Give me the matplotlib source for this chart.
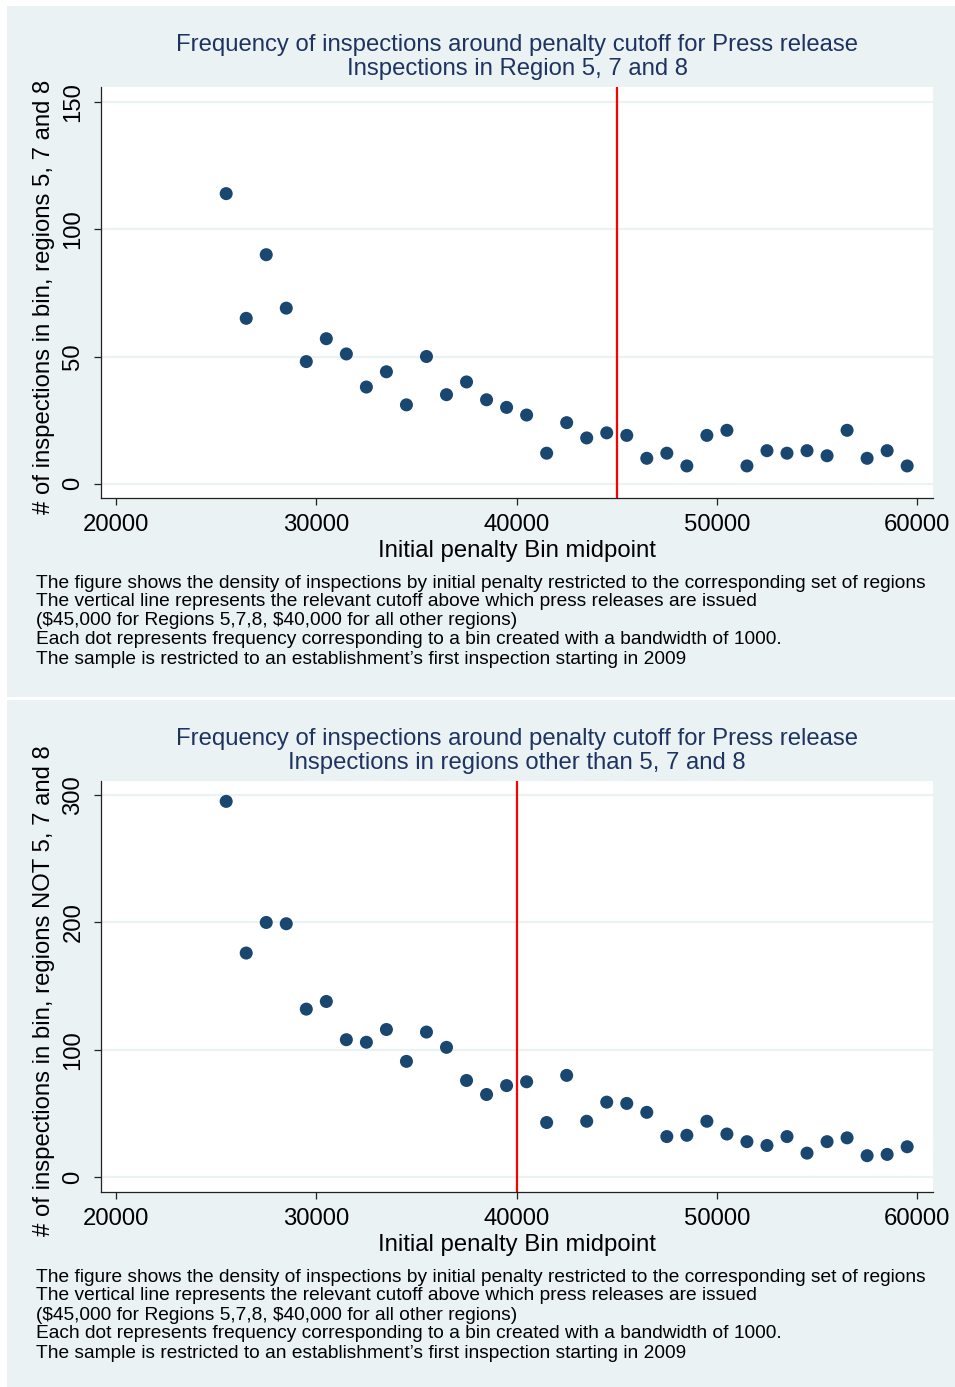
import numpy as np
import matplotlib
matplotlib.use("Agg")
import matplotlib.pyplot as plt
from matplotlib.patches import Rectangle

plt.rcParams["font.family"] = ["Liberation Sans", "DejaVu Sans"]

# Bin midpoints (bandwidth 1000)
bin_mid = np.arange(25500, 60000, 1000)

# Frequencies for regions 5, 7 and 8
freq_r578 = [114, 65, 90, 69, 48, 57, 51, 38, 44, 31, 50, 35, 40, 33, 30, 27, 12, 24,
             18, 20, 19, 10, 12, 7, 19, 21, 7, 13, 12, 13, 11, 21, 10, 13, 7]
# Frequencies for all other regions
freq_other = [295, 176, 200, 199, 132, 138, 108, 106, 116, 91, 114, 102, 76, 65, 72, 75,
              43, 80, 44, 59, 58, 51, 32, 33, 44, 34, 28, 25, 32, 19, 28, 31, 17, 18, 24]

cutoff_r578 = 45000
cutoff_other = 40000

xticks = [20000, 30000, 40000, 50000, 60000]
yticks_r578 = [0, 50, 100, 150]
yticks_other = [0, 100, 200, 300]

titles_r578 = ["Frequency of inspections around penalty cutoff for Press release",
               "Inspections in Region 5, 7 and 8"]
titles_other = ["Frequency of inspections around penalty cutoff for Press release",
                "Inspections in regions other than 5, 7 and 8"]
ylabel_r578 = "# of inspections in bin, regions 5, 7 and 8"
ylabel_other = "# of inspections in bin, regions NOT 5, 7 and 8"
xlabel = "Initial penalty Bin midpoint"
notes = ["The figure shows the density of inspections by initial penalty restricted to the corresponding set of regions",
         "The vertical line represents the relevant cutoff above which press releases are issued",
         "($45,000 for Regions 5,7,8, $40,000 for all other regions)",
         "Each dot represents frequency corresponding to a bin created with a bandwidth of 1000.",
         "The sample is restricted to an establishment\u2019s first inspection starting in 2009"]

W, H = 955, 1387
BG = "#eaf2f3"
NAVY = "#1a476f"
TITLE_C = "#1f3360"
FS = 17.2

fig = plt.figure(figsize=(W / 100, H / 100), dpi=100)
fig.patch.set_facecolor("white")


def fx(px):
    return px / W


def fy(py):
    return 1 - py / H


def panel(top, bottom, y, ylim, yticks, cutoff, titles, ylabel):
    fig.patches.append(Rectangle((fx(7), fy(bottom)), fx(W - 7), (bottom - top) / H,
                                 transform=fig.transFigure, facecolor=BG,
                                 edgecolor="none", zorder=-5))
    ax_top = top + 81
    ax_bot = top + 492
    ax = fig.add_axes([fx(101), fy(ax_bot), fx(933 - 101), (ax_bot - ax_top) / H])
    ax.set_zorder(2)
    ax.set_facecolor("white")
    ax.scatter(bin_mid, y, s=88, color=NAVY, edgecolors="none", zorder=3)
    ax.axvline(cutoff, color="#ff0000", lw=1.6, zorder=2)
    ax.set_xlim(19250, 60790)
    ax.set_ylim(*ylim)
    ax.set_xticks(xticks)
    ax.set_yticks(yticks)
    ax.set_yticklabels([str(v) for v in yticks], rotation=90, va="center")
    ax.grid(axis="y", color=BG, lw=1.6, zorder=1)
    ax.grid(axis="x", visible=False)
    for s in ["top", "right"]:
        ax.spines[s].set_visible(False)
    for s in ["left", "bottom"]:
        ax.spines[s].set_color("#222222")
        ax.spines[s].set_linewidth(0.9)
    ax.tick_params(axis="both", direction="out", length=5, width=0.9, color="#222222",
                   labelsize=FS, labelcolor="black")
    ax.tick_params(axis="y", pad=7)
    ax.tick_params(axis="x", pad=6.5)
    ax.set_axisbelow(True)
    fig.text(fx(517), fy(top + 39), titles[0], ha="center", va="center",
             fontsize=FS, color=TITLE_C)
    fig.text(fx(517), fy(top + 63), titles[1], ha="center", va="center",
             fontsize=FS, color=TITLE_C)
    fig.text(fx(44), fy(top + 291), ylabel, rotation=90, ha="center", va="center",
             fontsize=FS, color="black")
    fig.text(fx(517), fy(top + 545), xlabel, ha="center", va="center",
             fontsize=FS, color="black")
    for i, line in enumerate(notes):
        fig.text(fx(36), fy(top + 577 + 19 * i), line, ha="left", va="center",
                 fontsize=13.75, color="black", parse_math=False)
    return ax


panel(6, 697, freq_r578, (-5.6, 155.9), yticks_r578, cutoff_r578, titles_r578, ylabel_r578)
panel(700, 1387, freq_other, (-11.5, 311.0), yticks_other, cutoff_other, titles_other, ylabel_other)

fig.savefig("out.png", dpi=100, facecolor=fig.get_facecolor())
